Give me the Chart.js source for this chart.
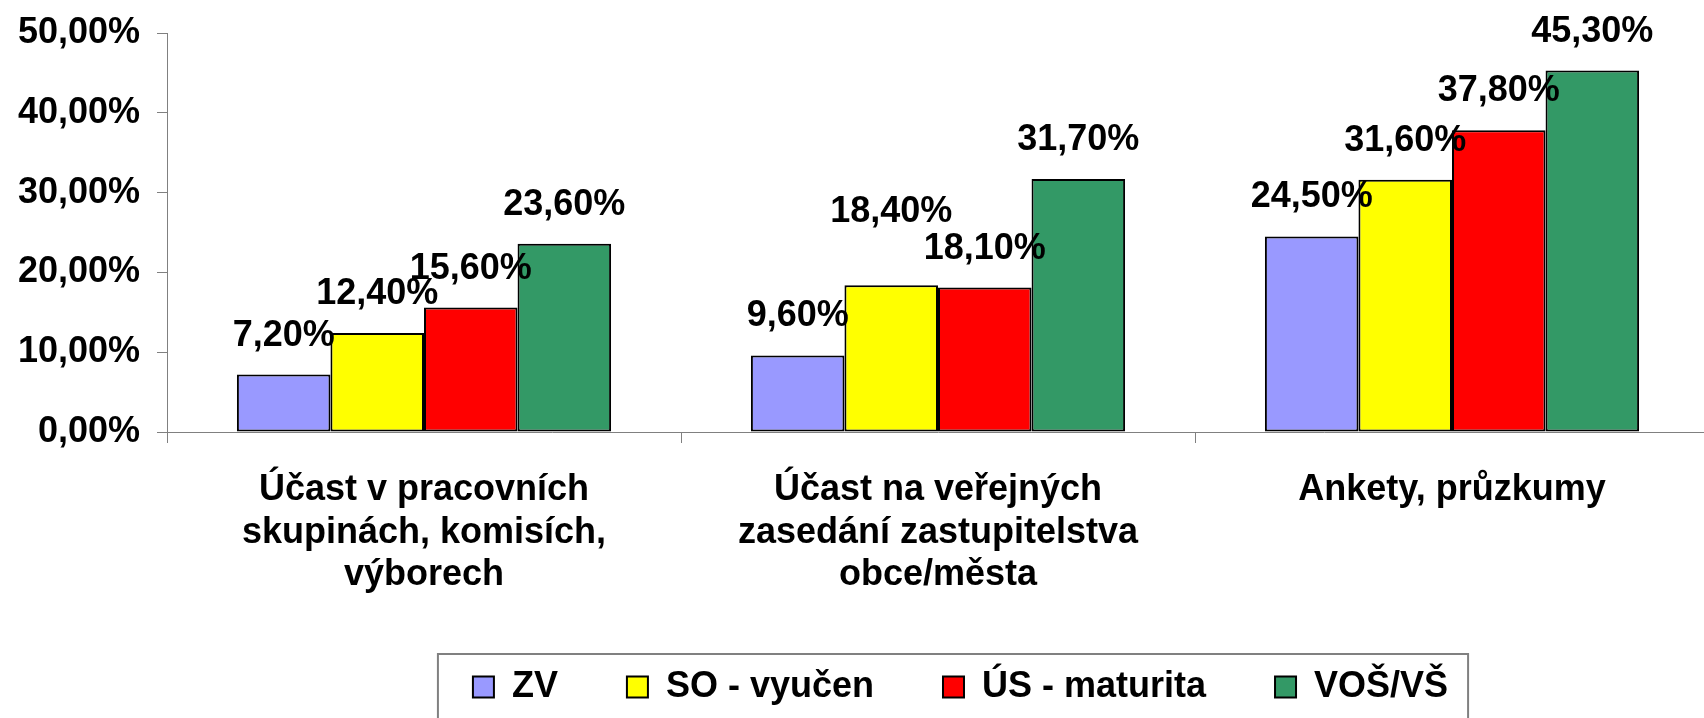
<!DOCTYPE html>
<html>
<head>
<meta charset="utf-8">
<script src="https://cdn.jsdelivr.net/npm/chart.js@4"></script>
<style>
  html, body { margin: 0; padding: 0; background: #fff; overflow: hidden; }
  #wrap { width: 1704px; height: 718px; overflow: hidden; }
</style>
</head>
<body>
<div id="wrap"><canvas id="chart" width="1921" height="718"></canvas></div>
<script>
// ================================
// Data
// ================================
const categories = [
    ["Účast v pracovních", "skupinách, komisích,", "výborech"],
    ["Účast na veřejných", "zasedání zastupitelstva", "obce/města"],
    ["Ankety, průzkumy"]
];
const seriesNames = ["ZV", "SO - vyučen", "ÚS - maturita", "VOŠ/VŠ"];
const zvValues = [7.2, 9.6, 24.5];
const soValues = [12.4, 18.4, 31.6];
const usValues = [15.6, 18.1, 37.8];
const vosValues = [23.6, 31.7, 45.3];
const seriesColors = ["#9999FF", "#FFFF00", "#FF0000", "#339966"];
const yTicks = [0, 10, 20, 30, 40, 50];

const FONT = "'Liberation Sans', Arial, sans-serif";
const AXIS_GRAY = "#808080";

// how far above the bar top each value label sits (px);
// the original has the "18,40%" label moved up so it does not clash
const LABEL_LIFT = 29;
const labelLiftOverride = { "1-1": 63 };   // "dataset-index": lift

// 7.2 -> "7,20%"
const pct = v => Number(v).toFixed(2).replace(".", ",") + "%";

// Value labels above each bar
const valueLabels = {
    id: "valueLabels",
    afterDatasetsDraw(chart) {
        const ctx = chart.ctx;
        ctx.save();
        ctx.font = "bold 36px " + FONT;
        ctx.fillStyle = "#000";
        ctx.textAlign = "center";
        ctx.textBaseline = "alphabetic";
        chart.data.datasets.forEach((ds, i) => {
            chart.getDatasetMeta(i).data.forEach((bar, j) => {
                const lift = labelLiftOverride[i + "-" + j] || LABEL_LIFT;
                ctx.fillText(pct(ds.data[j]), bar.x, bar.y - lift);
            });
        });
        ctx.restore();
    }
};

// Grey frame round the legend (runs off the bottom edge like the original)
const legendFrame = {
    id: "legendFrame",
    afterDraw(chart) {
        const hb = chart.legend.legendHitBoxes;
        if (!hb || !hb.length) return;
        const first = hb[0], last = hb[hb.length - 1];
        const left = first.left - 35;
        const right = last.left + last.width + 20;
        const top = first.top + first.height / 2 - 33;
        const ctx = chart.ctx;
        ctx.save();
        ctx.strokeStyle = AXIS_GRAY;
        ctx.lineWidth = 2;
        ctx.strokeRect(left, top, right - left, 300);
        ctx.restore();
    }
};

const allValues = [zvValues, soValues, usValues, vosValues];

new Chart(document.getElementById("chart"), {
    type: "bar",
    data: {
        labels: categories,
        datasets: seriesNames.map((name, i) => ({
            label: name,
            data: allValues[i],
            backgroundColor: seriesColors[i],
            borderColor: "#000",
            borderWidth: 2,
            borderSkipped: false,
            categoryPercentage: 0.728,
            barPercentage: 1
        }))
    },
    options: {
        responsive: false,
        animation: false,
        devicePixelRatio: 1,
        layout: { padding: { top: 33, bottom: 3, left: 0, right: 0 } },
        plugins: {
            tooltip: { enabled: false },
            legend: {
                position: "bottom",
                labels: {
                    boxWidth: 21,
                    boxHeight: 21,
                    padding: 69,
                    color: "#000",
                    font: { family: FONT, size: 36, weight: "bold" }
                }
            }
        },
        scales: {
            x: {
                offset: true,
                grid: {
                    offset: true,
                    drawOnChartArea: false,
                    tickLength: 11,
                    color: AXIS_GRAY
                },
                border: { color: AXIS_GRAY, width: 1 },
                ticks: {
                    color: "#000",
                    padding: 26,
                    maxRotation: 0,
                    autoSkip: false,
                    font: { family: FONT, size: 36, weight: "bold", lineHeight: 1.18 }
                },
                afterFit: s => { s.height = 168; }
            },
            y: {
                min: 0,
                max: 50,
                grid: { drawOnChartArea: false, tickLength: 10, color: AXIS_GRAY },
                border: { color: AXIS_GRAY, width: 1 },
                afterBuildTicks: s => { s.ticks = yTicks.map(v => ({ value: v })); },
                ticks: {
                    color: "#000",
                    padding: 17,
                    // small lineHeight keeps the top label from pushing the plot down
                    font: { family: FONT, size: 36, weight: "bold", lineHeight: 0.6 },
                    callback: v => pct(v)
                },
                afterFit: s => { s.width = 167; }
            },
            // empty spacer on the right so the legend centres like the original
            spacer: {
                type: "linear",
                position: "right",
                grid: { display: false },
                border: { display: false },
                ticks: { display: false },
                afterFit: s => { s.width = 212; }
            }
        }
    },
    plugins: [valueLabels, legendFrame]
});
</script>
</body>
</html>
